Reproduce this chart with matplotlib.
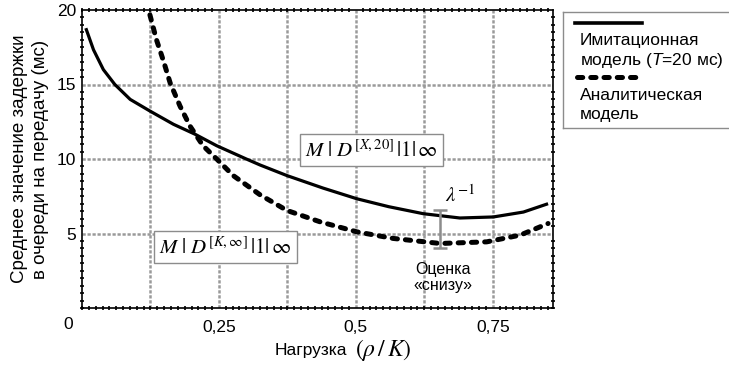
import numpy as np
import matplotlib
matplotlib.use("Agg")
from matplotlib import pyplot as plt
from matplotlib.lines import Line2D
from matplotlib.ticker import MultipleLocator

plt.rcParams['font.family'] = ['Liberation Sans', 'DejaVu Sans']
plt.rcParams['mathtext.fontset'] = 'custom'
plt.rcParams['mathtext.rm'] = 'Liberation Sans'
plt.rcParams['mathtext.it'] = 'Liberation Sans:italic'

# simulation model (T = 20 ms)
sim_load = [0.007, 0.021, 0.039, 0.060, 0.088, 0.124, 0.167, 0.206, 0.246,
            0.300, 0.325, 0.374, 0.44, 0.502, 0.56, 0.623, 0.690, 0.751,
            0.806, 0.851]
sim_delay = [18.78, 17.33, 16.0, 15.0, 14.0, 13.22, 12.33, 11.67, 10.89,
             10.0, 9.6, 8.89, 8.05, 7.33, 6.8, 6.33, 6.04, 6.11,
             6.44, 7.0]

# analytic model
an_load = [0.124, 0.136, 0.149, 0.161, 0.179, 0.197, 0.221, 0.246, 0.276,
           0.325, 0.374, 0.435, 0.502, 0.568, 0.654, 0.739, 0.80, 0.851]
an_delay = [19.67, 18.0, 16.55, 15.1, 13.55, 12.22, 10.89, 10.0, 8.89,
            7.6, 6.55, 5.78, 5.11, 4.67, 4.33, 4.44, 4.89, 5.67]

# lower bound marker
bound_x = 0.654
bound_lo = 4.0
bound_hi = 6.6

x_ticks = [0.25, 0.5, 0.75]
x_tick_labels = ['0,25', '0,5', '0,75']
y_ticks = [5, 10, 15, 20]

DASHED = (0, (1.05, 1.6))

fig = plt.figure(figsize=(7.29, 3.65), dpi=100)
ax = fig.add_axes([82 / 729, 57 / 365, 471 / 729, 298 / 365])

ax.plot(sim_load, sim_delay, color='black', lw=2.3, solid_capstyle='butt',
        solid_joinstyle='round', zorder=3)
ax.plot(an_load, an_delay, color='black', lw=3.6, linestyle=DASHED,
        dash_capstyle='round', zorder=3)

mid = (bound_lo + bound_hi) / 2
ax.errorbar([bound_x], [mid], yerr=[[mid - bound_lo], [bound_hi - mid]],
            color='#8c8c8c', lw=1.8, capsize=4.7, capthick=1.8, zorder=4)

ax.set_xlim(0, 0.86)
ax.set_ylim(0, 20)

# grid
for gx in np.arange(0.125, 0.86, 0.125):
    ax.axvline(gx, color='#9a9a9a', lw=1.8, linestyle=(0, (1.3, 0.7)), zorder=1)
for gy in [5, 10, 15]:
    ax.axhline(gy, color='#9a9a9a', lw=1.8, linestyle=(0, (1.3, 0.7)), zorder=1)

ax.set_xticks(x_ticks)
ax.set_xticklabels(x_tick_labels)
ax.set_yticks(y_ticks)
ax.xaxis.set_minor_locator(MultipleLocator(0.0125))
ax.yaxis.set_minor_locator(MultipleLocator(0.5))
ax.tick_params(which='major', length=0, labelsize=12.5)
ax.tick_params(axis='x', which='major', pad=9)
ax.tick_params(axis='y', which='major', pad=4)
ax.tick_params(which='minor', length=2.5, width=1.2, direction='inout',
               top=True, right=True)
for s in ax.spines.values():
    s.set_linewidth(1.2)
    s.set_linestyle((0, (2, 1)))

ax.text(-0.019, -0.03, '0', transform=ax.transAxes, ha='right', va='top',
        fontsize=12.5)

ax.set_ylabel('Среднее значение задержки\nв очереди на передачу (мс)',
              fontsize=13.5, labelpad=6, linespacing=1.3)

# x label: plain word + math part in serif
ax.text(0.563, -0.142, 'Нагрузка', transform=ax.transAxes, ha='right',
        va='center', fontsize=12.5)
ax.text(0.579, -0.142, r'$\left(\rho\,/\,K\right)$', transform=ax.transAxes,
        ha='left', va='center', fontsize=17, math_fontfamily='stix')

box = dict(boxstyle='square,pad=0.25', fc='white', ec='#8c8c8c', lw=1)
ax.text(0.528, 10.63, r'$M\ |\ D^{[X,20]}\,|1|\,\infty$', fontsize=15,
        math_fontfamily='stix', ha='center', va='center', bbox=box, zorder=5)
ax.text(0.262, 4.07, r'$M\ |\ D^{[K,\infty]}\,|1|\,\infty$', fontsize=15,
        math_fontfamily='stix', ha='center', va='center', bbox=box, zorder=5)
ax.text(0.69, 7.6, r'$\lambda^{-1}$', fontsize=15, math_fontfamily='stix',
        ha='center', va='center', zorder=5)
ax.text(0.659, 2.05, 'Оценка\n«снизу»', fontsize=11.5, ha='center', va='center',
        linespacing=1.1, zorder=5)

# legend panel
lax = fig.add_axes([563 / 729, (365 - 128) / 365, 200 / 729, 116 / 365])
lax.set_xlim(0, 200)
lax.set_ylim(116, 0)
lax.set_xticks([])
lax.set_yticks([])
for s in lax.spines.values():
    s.set_color('#8c8c8c')
    s.set_linewidth(1)
lax.add_line(Line2D([12, 79], [11, 11], color='black', lw=2.6))
lax.add_line(Line2D([14, 78], [65, 65], color='black', lw=3.6,
                    linestyle=DASHED, dash_capstyle='round'))
lax.text(17, 29, 'Имитационная', fontsize=12.5, va='center')
lax.text(17, 48, r'модель ($T$=20 мс)', fontsize=12.5, va='center')
lax.text(17, 84, 'Аналитическая', fontsize=12.5, va='center')
lax.text(17, 102, 'модель', fontsize=12.5, va='center')

fig.savefig('out.png', dpi=100)
